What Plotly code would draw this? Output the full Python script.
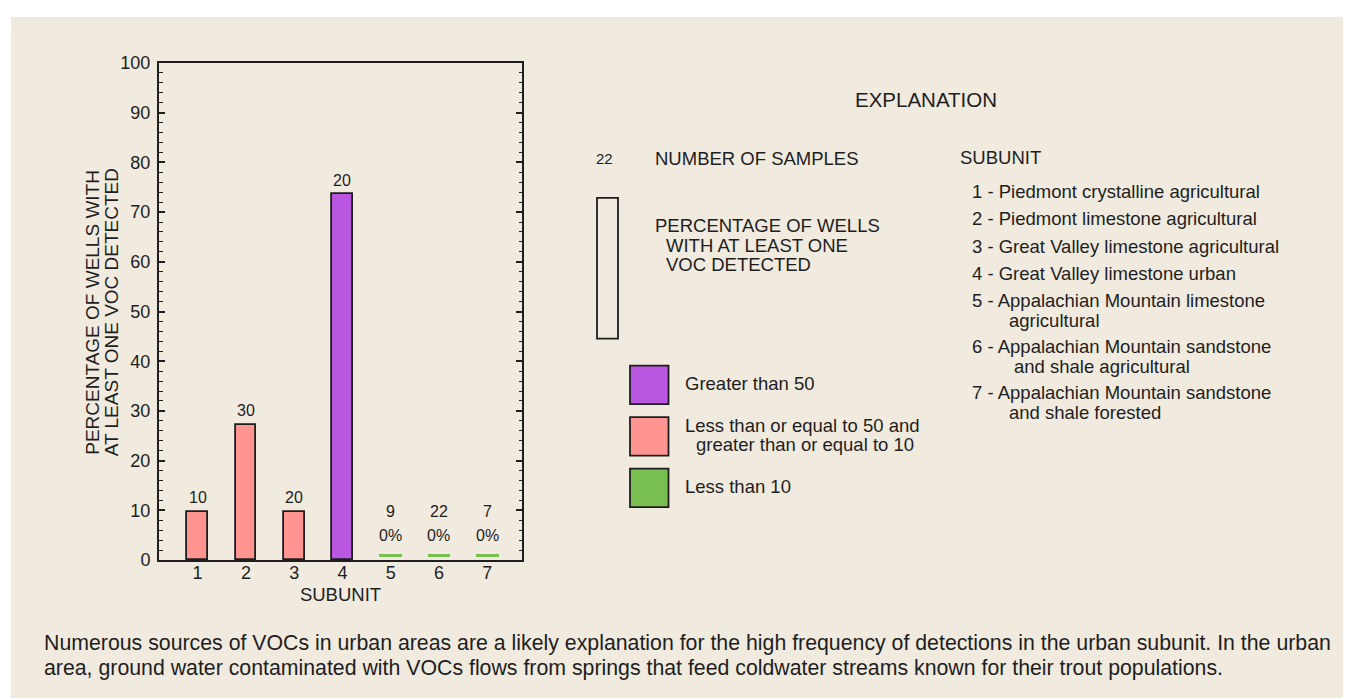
import plotly.graph_objects as go

# ---------------- data ----------------
subunits = [1, 2, 3, 4, 5, 6, 7]
pct_detected = [9.7, 27.2, 9.7, 73.6, 0, 0, 0]
num_samples = [10, 30, 20, 20, 9, 22, 7]
pct_class = ["mid", "mid", "mid", "high", "low", "low", "low"]
y_ticks = [0, 10, 20, 30, 40, 50, 60, 70, 80, 90, 100]

class_colors = {"high": "#B957E0", "mid": "#FF9490", "low": "#78BE50"}
class_labels = [("high", ["Greater than 50"]),
                ("mid", ["Less than or equal to 50 and", "greater than or equal to 10"]),
                ("low", ["Less than 10"])]
subunit_names = [
    ["1 - Piedmont crystalline agricultural"],
    ["2 - Piedmont limestone agricultural"],
    ["3 - Great Valley limestone agricultural"],
    ["4 - Great Valley limestone urban"],
    ["5 - Appalachian Mountain limestone", "agricultural"],
    ["6 - Appalachian Mountain sandstone", "and shale agricultural"],
    ["7 - Appalachian Mountain sandstone", "and shale forested"],
]
caption_lines = [
    "Numerous sources of VOCs in urban areas are a likely explanation for the high frequency of detections in the urban subunit. In the urban",
    "area, ground water contaminated with VOCs flows from springs that feed coldwater streams known for their trout populations.",
]

# ---------------- layout geometry ----------------
W, H = 1351, 698
L, R, T, B = 151, 514, 55, 552.5
BG = "#F0EADF"
INK = "#1e1e1e"
FONT = "Arial, Liberation Sans, sans-serif"


def px(x):
    return (x - L) / (R - L)


def py(y):
    return (B - y) / (B - T)


fig = go.Figure()

# bars with non-zero percentage
nz = [i for i, v in enumerate(pct_detected) if v > 0]
z = [i for i, v in enumerate(pct_detected) if v == 0]
fig.add_trace(go.Bar(
    x=[subunits[i] for i in nz],
    y=[pct_detected[i] for i in nz],
    marker=dict(color=[class_colors[pct_class[i]] for i in nz],
                line=dict(color=INK, width=1.8)),
    width=0.43, hoverinfo="x+y", showlegend=False,
))
# zero-percentage subunits drawn as a thin green dash near the axis
fig.add_trace(go.Bar(
    x=[subunits[i] for i in z],
    y=[0.45 for i in z],
    base=[pct_detected[i] + 0.7 for i in z],
    marker=dict(color=[class_colors[pct_class[i]] for i in z], line=dict(width=0)),
    width=0.47, hoverinfo="x", showlegend=False,
))

annotations = []
# sample counts and 0% labels
for i in range(len(subunits)):
    if pct_detected[i] > 0:
        annotations.append(dict(x=subunits[i], y=pct_detected[i], xref="x", yref="y",
                                text=str(num_samples[i]), showarrow=False, yanchor="middle",
                                yshift=14, font=dict(size=16, color=INK, family=FONT)))
    else:
        annotations.append(dict(x=subunits[i], y=pct_detected[i], xref="x", yref="y",
                                text=str(num_samples[i]), showarrow=False, yanchor="middle",
                                yshift=49, font=dict(size=16, color=INK, family=FONT)))
        annotations.append(dict(x=subunits[i], y=pct_detected[i], xref="x", yref="y",
                                text="%d%%" % pct_detected[i], showarrow=False, yanchor="middle",
                                yshift=24.5, font=dict(size=16, color=INK, family=FONT)))


def txt(x, y, s, size=18.5, anchor="left", angle=0):
    annotations.append(dict(x=px(x), y=py(y), xref="paper", yref="paper", text=s,
                            showarrow=False, xanchor=anchor, yanchor="middle",
                            textangle=angle,
                            font=dict(size=size, color=INK, family=FONT)))


# y-axis title (two lines)
txt(85, 305, "PERCENTAGE OF WELLS WITH", size=19, anchor="center", angle=-90)
txt(103.5, 305, "AT LEAST ONE VOC DETECTED", size=19, anchor="center", angle=-90)

# explanation block
txt(918, 92, "EXPLANATION", size=20.5, anchor="center")
txt(596, 151, "22", size=15, anchor="center")
txt(645, 151, "NUMBER OF SAMPLES")
txt(645, 218, "PERCENTAGE OF WELLS")
txt(656, 237.3, "WITH AT LEAST ONE")
txt(656, 256.7, "VOC DETECTED")

shapes = [
    # beige panel
    dict(type="rect", xref="paper", yref="paper", x0=px(3), x1=px(1351), y0=py(698), y1=py(9),
         fillcolor=BG, line=dict(width=0), layer="below"),
    # sample bar symbol
    dict(type="rect", xref="paper", yref="paper", x0=px(589), x1=px(610), y0=py(331), y1=py(190),
         fillcolor="rgba(0,0,0,0)", line=dict(color=INK, width=1.8)),
]

sw_top = [358, 409.5, 461]
for (cls, lines), top in zip(class_labels, sw_top):
    shapes.append(dict(type="rect", xref="paper", yref="paper", x0=px(622), x1=px(660.5),
                       y0=py(top + 38.5), y1=py(top), fillcolor=class_colors[cls],
                       line=dict(color=INK, width=1.8)))
    if len(lines) == 1:
        txt(675, top + 18, lines[0])
    else:
        txt(675, top + 8, lines[0])
        txt(686, top + 27.5, lines[1])

# subunit list
txt(950, 150, "SUBUNIT")
item_y = [183.3, 211, 239, 266, 293.2, 339.2, 385.2]
cont_x = [None, None, None, None, 999, 1004, 999]
for names, y0, cx in zip(subunit_names, item_y, cont_x):
    txt(962, y0, names[0], size=18.5)
    if len(names) > 1:
        txt(cx, y0 + 19.6, names[1], size=18.5)

# caption
txt(34, 636, caption_lines[0], size=21.3)
txt(34, 661, caption_lines[1], size=21.3)

fig.update_layout(
    width=W, height=H,
    margin=dict(l=L, r=W - R, t=T, b=H - B, pad=0),
    paper_bgcolor="white", plot_bgcolor=BG,
    font=dict(family=FONT, color=INK, size=18),
    showlegend=False, bargap=0,
    shapes=shapes, annotations=annotations,
    xaxis=dict(range=[0.2, 7.72], tickmode="array", tickvals=subunits,
               ticktext=[str(s) for s in subunits], ticks="", showgrid=False, zeroline=False,
               showline=True, linecolor=INK, linewidth=2, mirror=True,
               tickfont=dict(size=18, family=FONT, color=INK), ticklabelstandoff=-5,
               title=dict(text="SUBUNIT", font=dict(size=18.5, family=FONT, color=INK), standoff=6),
               fixedrange=True),
    yaxis=dict(range=[0, 100], tickmode="array", tickvals=y_ticks, ticks="inside", ticklen=6,
               tickwidth=1.5, tickcolor=INK, showgrid=False, zeroline=False,
               showline=True, linecolor=INK, linewidth=2, mirror="ticks",
               tickfont=dict(size=18, family=FONT, color=INK), ticklabelstandoff=3,
               minor=dict(dtick=2, ticks="inside", ticklen=3.5, tickwidth=1.3, tickcolor=INK,
                          showgrid=False),
               fixedrange=True),
)

fig.write_html("out.html")
